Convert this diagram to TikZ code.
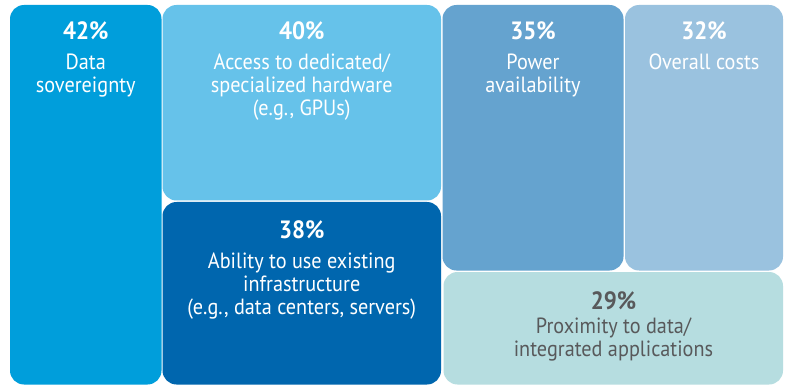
\documentclass[tikz,border=0pt]{standalone}
\usepackage{fontspec}
\setmainfont[FakeStretch=0.92]{PT Sans}
\definecolor{cA}{HTML}{009EDB}
\definecolor{cB}{HTML}{66C2EA}
\definecolor{cC}{HTML}{0066AE}
\definecolor{cD}{HTML}{65A3CF}
\definecolor{cE}{HTML}{9AC2DF}
\definecolor{cF}{HTML}{B6DDE0}
\definecolor{gtext}{HTML}{58595B}
\newcommand{\pctfont}{\fontsize{25}{27}\selectfont\bfseries}
\newcommand{\bodyfont}{\fontsize{22}{23}\selectfont}
\newcommand{\bl}[1]{\parbox[t]{330pt}{\centering #1}}
\begin{document}
\begin{tikzpicture}[x=1pt,y=-1pt,
  panel/.style={rounded corners=14pt, fill=#1},
  pct/.style={font=\pctfont, text=white, anchor=base, inner sep=0pt},
  body/.style={font=\bodyfont, text=white, anchor=base, inner sep=0pt},
]
\useasboundingbox[fill=white] (0,0) rectangle (785,385);
\fill[panel=cA] (10,5) rectangle (161.5,384.5);
\fill[panel=cB] (162.5,5) rectangle (441,200.5);
\fill[panel=cC] (162.5,202) rectangle (441,384.5);
\fill[panel=cD] (442.5,5) rectangle (623.5,270.5);
\fill[panel=cE] (625,5) rectangle (783,270.5);
\fill[panel=cF] (443.5,272) rectangle (783,384.5);

\node[pct] (p1) at (85.75,40) {42\%};
\node[body] (t1) at (85.75,70) {\bl{Data\\sovereignty}};
\node[pct] (p2) at (301.75,40) {40\%};
\node[body] (t2) at (301.75,70) {\bl{Access to dedicated/\\specialized hardware\\(e.g., GPUs)}};
\node[pct] (p3) at (301.75,238) {38\%};
\node[body] (t3) at (301.75,268) {\bl{Ability to use existing\\infrastructure\\(e.g., data centers, servers)}};
\node[pct] (p4) at (533,40) {35\%};
\node[body] (t4) at (533,70) {\bl{Power\\availability}};
\node[pct] (p5) at (704,40) {32\%};
\node[body] (t5) at (704,70) {\bl{Overall costs}};
\node[pct, text=gtext] (p6) at (613.5,309) {29\%};
\node[body, text=gtext] (t6) at (613.5,333) {\bl{Proximity to data/\\integrated applications}};
\end{tikzpicture}
\end{document}
